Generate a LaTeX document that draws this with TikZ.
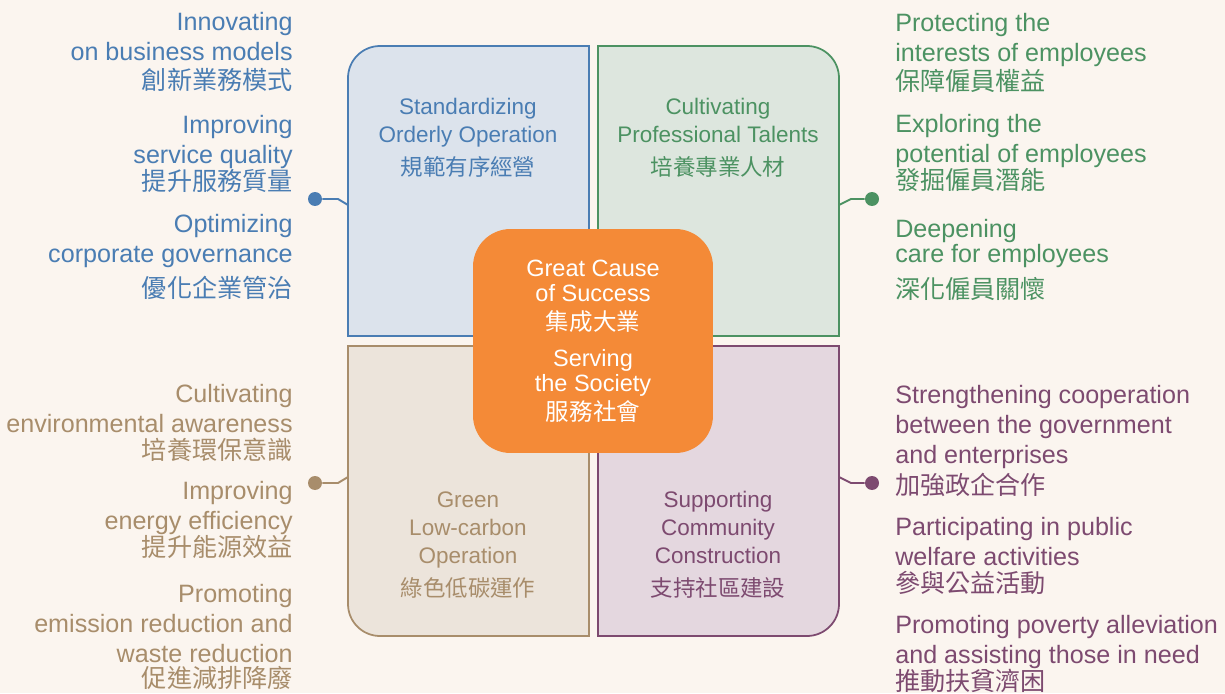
\documentclass[tikz,border=0pt]{standalone}
\usepackage{fontspec}
\setmainfont{Liberation Sans}
\newfontfamily\cjk{Noto Sans CJK TC}
\usepackage{xcolor}
\usepackage{tikz}
\definecolor{paper}{HTML}{FBF5EF}
\definecolor{myblue}{HTML}{4A7DB3}
\definecolor{bluefill}{HTML}{DCE3EC}
\definecolor{mygreen}{HTML}{4C9262}
\definecolor{greenfill}{HTML}{DDE6DE}
\definecolor{mytan}{HTML}{A88D6B}
\definecolor{tanfill}{HTML}{ECE4DB}
\definecolor{mypurple}{HTML}{7D4A70}
\definecolor{purplefill}{HTML}{E4D7DF}
\definecolor{myorange}{HTML}{F48A37}

\begin{document}
\begin{tikzpicture}[x=0.02cm, y=-0.02cm,
    note/.style={inner sep=0pt, font=\fontsize{14.3pt}{17pt}\selectfont},
    lnote/.style={note, align=right, anchor=east},
    rnote/.style={note, align=left, anchor=west},
    boxtext/.style={inner sep=0pt, align=center, font=\fontsize{12.8pt}{15.9pt}\selectfont},
    knob/.style={circle, fill, inner sep=0pt, minimum size=0.28cm},
    stem/.style={line width=1.1pt}]
        \fill[paper] (0,0) rectangle (1225,693);

        \draw[myblue, fill=bluefill, line width=1pt] (348,336) -- (348,78)
          arc[start angle=180, end angle=90, radius=0.64cm] -- (589,46) -- (589,336) -- cycle;
        \draw[mygreen, fill=greenfill, line width=1pt] (598,336) -- (598,46) -- (807,46)
          arc[start angle=90, end angle=0, radius=0.64cm] -- (839,336) -- cycle;
        \draw[mytan, fill=tanfill, line width=1pt] (348,346) -- (589,346) -- (589,636) -- (380,636)
          arc[start angle=270, end angle=180, radius=0.64cm] -- cycle;
        \draw[mypurple, fill=purplefill, line width=1pt] (598,346) -- (839,346) -- (839,604)
          arc[start angle=0, end angle=-90, radius=0.64cm] -- (598,636) -- cycle;

        \node[fill=myorange, rounded corners=0.75cm, minimum width=4.8cm, minimum height=4.48cm,
          inner sep=0pt] (core) at (593,341) {};
        \node[boxtext, white, font=\fontsize{13.4pt}{14.2pt}\selectfont] (cause) at (593,296)
          {Great Cause\\of Success\\[2.3pt]{\cjk 集成大業}};
        \node[boxtext, white, font=\fontsize{13.4pt}{14.2pt}\selectfont] (soc) at (593,386)
          {Serving\\the Society\\[2.3pt]{\cjk 服務社會}};

        \node[boxtext, myblue] (std) at (468,138) {Standardizing\\Orderly Operation\\[2.8pt]{\cjk 規範有序經營}};
        \node[boxtext, mygreen] (tal) at (718,138) {Cultivating\\Professional Talents\\[2.8pt]{\cjk 培養專業人材}};
        \node[boxtext, mytan] (grn) at (468,545) {Green\\Low-carbon\\Operation\\[2.8pt]{\cjk 綠色低碳運作}};
        \node[boxtext, mypurple] (com) at (718,545) {Supporting\\Community\\Construction\\[2.8pt]{\cjk 支持社區建設}};

        \node[lnote, myblue] (inno) at (293,52) {Innovating\\on business models\\{\cjk 創新業務模式}};
        \node[lnote, myblue] (serv) at (293,154) {Improving\\service quality\\[-1.5pt]{\cjk 提升服務質量}};
        \node[lnote, myblue] (gov) at (293,257) {Optimizing\\corporate governance\\[3.4pt]{\cjk 優化企業管治}};

        \node[rnote, mygreen] (prot) at (895,53) {Protecting the\\interests of employees\\{\cjk 保障僱員權益}};
        \node[rnote, mygreen] (expl) at (895,153) {Exploring the\\potential of employees\\[-1.5pt]{\cjk 發掘僱員潛能}};
        \node[rnote, mygreen] (care) at (895,260) {Deepening\\[-2.8pt]care for employees\\[3.4pt]{\cjk 深化僱員關懷}};

        \node[lnote, mytan] (env) at (293,423) {Cultivating\\environmental awareness\\[-1.5pt]{\cjk 培養環保意識}};
        \node[lnote, mytan] (ener) at (293,520) {Improving\\energy efficiency\\[-1.1pt]{\cjk 提升能源效益}};
        \node[lnote, mytan] (emis) at (293,637) {Promoting\\emission reduction and\\waste reduction\\[-2.3pt]{\cjk 促進減排降廢}};

        \node[rnote, mypurple] (coop) at (895,441) {Strengthening cooperation\\between the government\\and enterprises\\[0.6pt]{\cjk 加強政企合作}};
        \node[rnote, mypurple] (welf) at (895,556) {Participating in public\\welfare activities\\[-1.1pt]{\cjk 參與公益活動}};
        \node[rnote, mypurple] (pov) at (895,654) {Promoting poverty alleviation\\and assisting those in need\\[-1.1pt]{\cjk 推動扶貧濟困}};

        \node[knob, myblue] (bk) at (315,199) {};
        \node[knob, mygreen] (gk) at (872,199) {};
        \node[knob, mytan] (tk) at (315,483) {};
        \node[knob, mypurple] (pk) at (872,483) {};
        \coordinate (bj) at (348,205);
        \coordinate (gj) at (839,205);
        \coordinate (tj) at (348,477);
        \coordinate (pj) at (839,477);

        \draw[stem, myblue] (bk) -- ++(23,0) -- (bj);
        \draw[stem, mygreen] (gk) -- ++(-21,0) -- (gj);
        \draw[stem, mytan] (tk) -- ++(23,0) -- (tj);
        \draw[stem, mypurple] (pk) -- ++(-21,0) -- (pj);
      \end{tikzpicture}
\end{document}
